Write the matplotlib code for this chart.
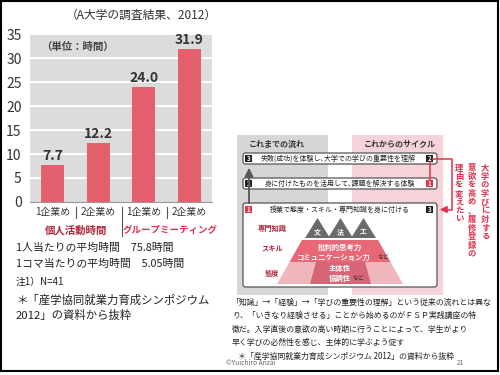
import matplotlib
matplotlib.use("Agg")
import matplotlib.pyplot as plt
from matplotlib.patches import Rectangle, FancyBboxPatch, Polygon

plt.rcParams['font.family'] = ['Noto Sans CJK JP', 'DejaVu Sans']

# ---- data ----
categories = ['1企業め', '2企業め', '1企業め', '2企業め']
values = [7.7, 12.2, 24.0, 31.9]
value_labels = ['7.7', '12.2', '24.0', '31.9']
groups = ['個人活動時間', 'グループミーティング']
yticks = [0, 5, 10, 15, 20, 25, 30, 35]

BAR = '#e4606e'
RED = '#e0304a'
DRED = '#b0283c'
DARK = '#333333'

fig = plt.figure(figsize=(5, 3.75), dpi=100)

# ---- bar chart ----
ax = fig.add_axes([30/500, 1-202/375, 182/500, 168/375])
ax.set_facecolor('#dcdcdc')
ax.bar(range(len(values)), values, width=0.5, color=BAR, zorder=3)
ax.set_xlim(-0.5, len(values)-0.5)
ax.set_ylim(0, 35)
ax.set_yticks(yticks)
ax.set_yticklabels([str(t) for t in yticks], fontsize=10, color=DARK)
ax.set_xticks(range(len(values)))
ax.set_xticklabels(categories, fontsize=7.1, color=DARK)
ax.tick_params(length=0)
ax.tick_params(axis='x', pad=3.5)
ax.tick_params(axis='y', pad=6)
for t in yticks[1:]:
    ax.axhline(t, color='white', lw=1.4, zorder=1)
for s in ['top', 'right', 'left']:
    ax.spines[s].set_visible(False)
ax.spines['bottom'].set_color('#999999')
for i, (v, lab) in enumerate(zip(values, value_labels)):
    ax.annotate(lab, (i, v), xytext=(0, 1.5), textcoords='offset points',
                ha='center', va='bottom', fontsize=10, fontweight='bold', color=DARK)
ax.text(0.06, 0.955, '（単位：時間）', transform=ax.transAxes, fontsize=7.5,
        fontweight='bold', color='#444444', va='top', ha='left')

# ---- overlay in pixel coordinates ----
ov = fig.add_axes([0, 0, 1, 1], zorder=5)
ov.set_xlim(0, 500)
ov.set_ylim(375, 0)
ov.axis('off')
ov.patch.set_alpha(0)

# frame
ov.add_patch(Rectangle((1, 1), 497, 370, fill=False, ec='black', lw=1.5))

ov.text(141, 15, '（A大学の調査結果、2012）', fontsize=8.5, ha='center', va='center', color=DARK)

# separators under bar chart
for x, y2 in [(76, 218), (122, 236), (167, 218)]:
    ov.plot([x, x], [207, y2], color='#555555', lw=0.8)
ov.text(76, 230, groups[0], fontsize=7.5, fontweight='bold', color=DRED, ha='center', va='center')
ov.text(170, 230, groups[1], fontsize=6.8, fontweight='bold', color=RED, ha='center', va='center')

notes = [('1人当たりの平均時間　75.8時間', 248),
         ('1コマ当たりの平均時間　5.05時間', 264),
         ('注1）N=41', 282),
         ('＊「産学協同就業力育成シンポジウム', 300),
         ('2012」の資料から抜粋', 315)]
for txt, y in notes:
    fs = 7.8 if y < 280 else (7 if y < 290 else 8.2)
    ov.text(16, y, txt, fontsize=fs, color='#222222', ha='left', va='center')

# ---- diagram ----
ov.add_patch(Rectangle((237, 135), 91, 160, color='#d6d6d6', lw=0))
ov.add_patch(Rectangle((352, 135), 91, 160, color='#f6d2d9', lw=0))
ov.text(277, 144, 'これまでの流れ', fontsize=5.8, fontweight='bold', color=DARK, ha='center', va='center')
ov.text(400, 144, 'これからのサイクル', fontsize=5.8, fontweight='bold', color=DARK, ha='center', va='center')

def rbox(x, y, w, h):
    ov.add_patch(FancyBboxPatch((x, y), w, h, boxstyle='round,pad=0,rounding_size=2.5',
                                fc='white', ec='#555555', lw=0.9))

def sq(x, y, n, c):
    ov.add_patch(Rectangle((x, y), 7, 7, color=c, lw=0))
    ov.text(x+3.5, y+3.7, n, fontsize=4.5, fontweight='bold', color='white', ha='center', va='center')

rbox(243, 153, 194, 11)
sq(245, 155, '3', '#222222')
sq(426, 155, '2', '#222222')
ov.text(338, 158.5, '失敗(成功)を体験し､大学での学びの重要性を理解', fontsize=5.0, color='#222222', ha='center', va='center')

rbox(243, 178, 194, 11)
sq(245, 180, '2', '#222222')
sq(426, 180, '1', RED)
ov.text(340, 183.5, '身に付けたものを活用して､課題を解決する体験', fontsize=5.0, color='#222222', ha='center', va='center')

rbox(243, 203, 194, 84)
sq(245, 206, '1', RED)
sq(426, 206, '3', '#222222')
ov.text(340, 210, '授業で態度・スキル・専門知識を身に付ける', fontsize=5.0, color='#222222', ha='center', va='center')

# gray arrow
ov.annotate('', xy=(249, 165), xytext=(249, 206),
            arrowprops=dict(arrowstyle='-|>,head_length=0.5,head_width=0.25', color='#555555', lw=1.3))
# red connectors
ov.plot([433, 452, 452, 445], [158.5, 158.5, 209.5, 209.5], color=RED, lw=1.1)
ov.annotate('', xy=(437, 209.5), xytext=(446, 209.5),
            arrowprops=dict(arrowstyle='-|>,head_length=0.4,head_width=0.2', color=RED, lw=1.1))
ov.plot([429.5, 429.5], [162, 180], color=RED, lw=1.1)

# pyramid labels
for txt, y in [('専門知識', 228), ('スキル', 249), ('態度', 273)]:
    ov.text(272, y, txt, fontsize=5.2, fontweight='bold', color=DRED, ha='center', va='center')

for cx, ch in [(317.5, '文'), (340.5, '法'), (363.5, '工')]:
    ov.add_patch(Polygon([(cx-12.5, 238), (cx, 218), (cx+12.5, 238)], color='#6a6a6a', lw=0))
    ov.text(cx, 231.5, ch, fontsize=5, fontweight='bold', color='white', ha='center', va='center')

ov.add_patch(Polygon([(302, 240), (378, 240), (390.5, 262), (289.5, 262)], color='#e86878', lw=0))
ov.add_patch(Polygon([(289.5, 262), (390.5, 262), (403, 284), (277, 284)], color='#f0b6be', lw=0))
ov.add_patch(Polygon([(316, 262), (365, 262), (371, 284), (310, 284)], color='#d66676', lw=0))
ov.text(340, 247, '批判的思考力', fontsize=5.3, fontweight='bold', color='white', ha='center', va='center')
ov.text(334, 257, 'コミュニケーション力', fontsize=5.3, fontweight='bold', color='white', ha='center', va='center')
ov.text(377, 257.5, 'など', fontsize=4.3, color='#333333', ha='left', va='center')
ov.text(340, 268, '主体性', fontsize=5.3, fontweight='bold', color='white', ha='center', va='center')
ov.text(340, 278, '協調性', fontsize=5.3, fontweight='bold', color='white', ha='center', va='center')
ov.text(352, 278.5, 'など', fontsize=4.3, color='#333333', ha='left', va='center')

# vertical red text
for x, col in [(485, '大学の学びに対する'), (472, '意欲を高め、履修登録の'), (459, '理由を変えたい')]:
    ov.text(x, 163, '\n'.join(col), fontsize=6, fontweight='bold', color=RED,
            ha='center', va='top', linespacing=0.95)

# caption text
cap = ['「知識」→「経験」→「学びの重要性の理解」という従来の流れとは異な',
       'り、「いきなり経験させる」ことから始めるのがＦＳＰ実践講座の特',
       '徴だ。入学直後の意欲の高い時期に行うことによって、学生がより',
       '早く学びの必然性を感じ、主体的に学ぶよう促す']
for i, line in enumerate(cap):
    ov.text(232, 302 + 13.5*i, line, fontsize=5.7, color='#222222', ha='left', va='center')
ov.text(238, 356, '＊「産学協同就業力育成シンポジウム 2012」の資料から抜粋', fontsize=5.7,
        color='#222222', ha='left', va='center')
ov.text(226, 363, '©Yuichiro Anzai', fontsize=4.8, color='#666666', ha='left', va='center')
ov.text(460, 363, '21', fontsize=4.8, color='#666666', ha='center', va='center')

fig.savefig('out.png', dpi=100)
